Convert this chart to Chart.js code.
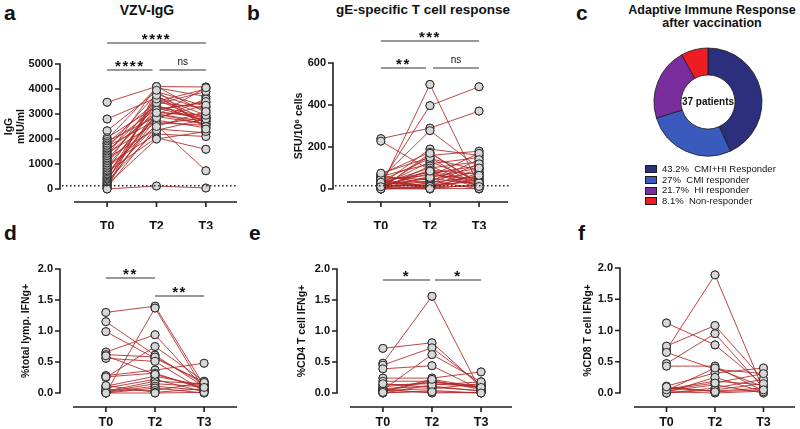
<!DOCTYPE html>
<html>
<head>
<meta charset="utf-8">
<script src="https://cdn.jsdelivr.net/npm/chart.js@4.4.1/dist/chart.umd.min.js"></script>
<style>
  body { margin: 0; background: #fff; width: 800px; height: 429px; position: relative; overflow: hidden;
         font-family: "Liberation Sans", Arial, sans-serif; color: #111; }
  canvas { position: absolute; }
  .lt { position: absolute; font-weight: bold; font-size: 21px; line-height: 21px; }
  .ttl { position: absolute; font-weight: bold; text-align: center; white-space: nowrap; transform: translateX(-50%); }
  #legend-c { position: absolute; left: 645px; top: 164px; margin: 0; padding: 0; list-style: none; font-size: 9.5px; }
  #legend-c li { height: 10.7px; line-height: 10.7px; white-space: nowrap; display: flex; align-items: center; }
  #legend-c span.sw { display: inline-block; width: 10px; height: 6px; border: 1px solid #1b1b1b; margin-right: 5px; }
</style>
</head>
<body>
<div class="lt" style="left:4px;top:2px">a</div>
<div class="lt" style="left:247px;top:2px">b</div>
<div class="lt" style="left:576px;top:2px">c</div>
<div class="lt" style="left:4px;top:222px">d</div>
<div class="lt" style="left:249px;top:222px">e</div>
<div class="lt" style="left:578px;top:222px">f</div>
<div class="ttl" style="left:147px;top:3px;font-size:14px;line-height:14px">VZV-IgG</div>
<div class="ttl" style="left:423px;top:3px;font-size:13.5px;line-height:14px">gE-specific T cell response</div>
<div class="ttl" style="left:712px;top:4px;font-size:12.5px;line-height:13px">Adaptive Immune Response<br>after vaccination</div>

<canvas id="pa"></canvas>
<canvas id="pb"></canvas>
<canvas id="pc"></canvas>
<canvas id="pd"></canvas>
<canvas id="pe"></canvas>
<canvas id="pf"></canvas>
<ul id="legend-c"></ul>

<script>
const timepoints = ['T0', 'T2', 'T3'];

// a - VZV-IgG, mIU/ml, one entry per patient
const iggT0 = [3470, 2800, 2330, 2050, 1990, 1900, 1830, 1760, 1700, 1640, 1560, 1490, 1420, 1360, 1300, 1240, 1170, 1100, 1030,
               960, 900, 830, 760, 690, 620, 560, 490, 430, 380, 320, 270, 220, 170, 120, 60, 20, 0];
const iggT2 = [4100, 3650, 3900, 3300, 4050, 2900, 3500, 3200, 2750, 3800, 3000, 3400, 2650, 3100, 4100, 2400, 3350, 2800, 3700,
               2200, 3250, 2550, 3450, 2050, 3000, 2950, 3600, 2600, 3150, 2350, 3750, 2850, 2000, 3050, 2500, 3950, 120];
const iggT3 = [4080, 2800, 3300, 2900, 3700, 2600, 4000, 3450, 2450, 3150, 2700, 3900, 2550, 2850, 3050, 2250, 2700, 3600, 2950,
               2100, 2750, 730, 3250, 1590, 2600, 4050, 2650, 2850, 3500, 2800, 2500, 3350, 2300, 2950, 3100, 2400, 40];
const iggTicks = [0, 1000, 2000, 3000, 4000, 5000];
const iggCutoff = 130;

// b - gE-specific T cells, SFU/10^6 cells
const sfuT0 = [240, 228, 10, 30, 50, 20, 70, 5, 40, 15, 60, 0, 25, 8, 35, 12, 45, 3, 18, 55, 6, 28, 2, 65, 14, 38, 0, 22, 9, 48, 4, 75, 16, 1, 32, 0, 11];
const sfuT2 = [290, 90, 498, 397, 278, 190, 175, 160, 145, 130, 120, 110, 100, 90, 80, 75, 65, 60, 50, 45, 40, 35, 30, 25, 20, 15, 10, 8, 5, 3, 0, 150, 55, 170, 12, 2, 85];
const sfuT3 = [371, 30, 15, 487, 100, 160, 20, 180, 90, 40, 150, 10, 130, 70, 5, 110, 50, 170, 25, 80, 0, 140, 60, 120, 35, 95, 45, 15, 75, 20, 55, 8, 100, 30, 65, 2, 12];
const sfuTicks = [0, 200, 400, 600];
const sfuCutoff = 15;

// d - % total lymphocytes IFNg+
const lympT0 = [1.30, 0.00, 1.15, 0.99, 0.66, 0.62, 0.56, 0.25, 0.28, 0.26, 0.11, 0.08, 0.03, 0.02, 0.01, 0.00, 0.05, 0.12, 0.00, 0.60];
const lympT2 = [1.40, 1.37, 0.61, 0.56, 0.94, 0.58, 0.51, 0.75, 0.37, 0.32, 0.27, 0.22, 0.19, 0.15, 0.11, 0.08, 0.04, 0.01, 0.00, 0.30];
const lympT3 = [0.12, 0.05, 0.10, 0.18, 0.08, 0.15, 0.03, 0.19, 0.48, 0.06, 0.12, 0.02, 0.15, 0.10, 0.04, 0.00, 0.17, 0.07, 0.01, 0.09];

// e - % CD4 T cells IFNg+
const cd4T0 = [0.48, 0.72, 0.45, 0.39, 0.05, 0.24, 0.19, 0.13, 0.07, 0.04, 0.00, 0.02, 0.10, 0.06, 0.15, 0.00, 0.03, 0.01];
const cd4T2 = [1.56, 0.81, 0.73, 0.44, 0.62, 0.24, 0.19, 0.15, 0.11, 0.07, 0.04, 0.20, 0.17, 0.00, 0.09, 0.13, 0.22, 0.02];
const cd4T3 = [0.02, 0.10, 0.13, 0.05, 0.18, 0.34, 0.08, 0.10, 0.03, 0.15, 0.00, 0.06, 0.12, 0.01, 0.04, 0.18, 0.09, 0.00];

// f - % CD8 T cells IFNg+
const cd8T0 = [0.69, 1.12, 0.75, 0.47, 0.43, 0.65, 0.11, 0.06, 0.03, 0.00, 0.08, 0.02, 0.04, 0.01, 0.00, 0.05, 0.10];
const cd8T2 = [1.89, 0.77, 1.08, 0.95, 0.43, 0.38, 0.32, 0.19, 0.13, 0.08, 0.03, 0.00, 0.40, 0.25, 0.05, 0.16, 0.02];
const cd8T3 = [0.05, 0.13, 0.21, 0.08, 0.03, 0.31, 0.40, 0.13, 0.00, 0.22, 0.08, 0.03, 0.10, 0.02, 0.15, 0.31, 0.05];

const pctTicks = [0, 0.5, 1.0, 1.5, 2.0];

// c - response groups
const groups = ['CMI+HI Responder', 'CMI responder', 'HI responder', 'Non-responder'];
const groupPct = [43.2, 27, 21.7, 8.1];
const groupColors = ['#2c2f7b', '#3a5bbd', '#7a2d9c', '#ec1d25'];
const nPatients = 37;

Chart.defaults.font.family = '"Liberation Sans", Arial, sans-serif';
Chart.defaults.color = '#111';
Chart.defaults.animation = false;

// GraphPad style detached axes, cutoff line and significance bars
const prismAxes = {
  id: 'prismAxes',
  afterDatasetsDraw(chart) {
    // points above every line
    chart.data.datasets.forEach((d, i) => {
      chart.getDatasetMeta(i).data.forEach(p => p.draw(chart.ctx, chart.chartArea));
    });
  },
  afterDraw(chart, args, o) {
    const {ctx, chartArea: a, scales: {x, y}} = chart;
    ctx.save();
    ctx.strokeStyle = '#1e1e1e';
    ctx.lineWidth = 1.6;
    const ax = a.left - o.gapY;
    const ay = a.bottom + o.gapX;
    ctx.beginPath();
    ctx.moveTo(ax, y.getPixelForValue(y.max) - 0.8);
    ctx.lineTo(ax, y.getPixelForValue(y.min) + 0.8);
    y.ticks.forEach(t => {
      const py = y.getPixelForValue(t.value);
      ctx.moveTo(ax - 5, py); ctx.lineTo(ax, py);
    });
    ctx.moveTo(a.left, ay); ctx.lineTo(a.right, ay);
    x.ticks.forEach(t => {
      const px = x.getPixelForValue(t.value);
      ctx.moveTo(px, ay); ctx.lineTo(px, ay + 5);
    });
    ctx.stroke();

    if (o.cutoff != null) {
      const py = y.getPixelForValue(o.cutoff);
      ctx.save();
      ctx.setLineDash([1.6, 2.4]);
      ctx.lineWidth = 1.5;
      ctx.strokeStyle = '#333';
      ctx.beginPath();
      ctx.moveTo(ax + 2, py); ctx.lineTo(a.right + 1, py);
      ctx.stroke();
      ctx.restore();
    }

    ctx.lineWidth = 1.2;
    ctx.strokeStyle = '#333';
    ctx.fillStyle = '#111';
    ctx.textAlign = 'center';
    ctx.textBaseline = 'alphabetic';
    (o.sig || []).forEach(s => {
      const x0 = x.getPixelForValue(s.from) + (s.trimL || 0);
      const x1 = x.getPixelForValue(s.to) - (s.trimR || 0);
      const by = a.top + s.dy;
      ctx.beginPath();
      ctx.moveTo(x0, by); ctx.lineTo(x1, by);
      ctx.stroke();
      if (s.label === 'ns') {
        ctx.font = '10px "Liberation Sans", Arial, sans-serif';
        ctx.letterSpacing = '0px';
        ctx.fillText(s.label, (x0 + x1) / 2, by - 5);
      } else {
        ctx.font = 'bold 15px "Liberation Sans", Arial, sans-serif';
        ctx.letterSpacing = '1.5px';
        ctx.fillText(s.label, (x0 + x1) / 2, by + 1);
      }
    });
    ctx.restore();
  }
};

function pairedPanel(id, box, area, opt) {
  const cv = document.getElementById(id);
  cv.width = box.w; cv.height = box.h;
  cv.style.left = box.x + 'px'; cv.style.top = box.y + 'px';
  const XH = 40;
  const series = opt.series;
  const datasets = series[0].map((v, i) => ({
    data: timepoints.map((t, j) => ({x: j, y: series[j][i]})),
    borderColor: 'rgba(176, 38, 36, 0.85)',
    borderWidth: 1,
    pointRadius: 4,
    pointBackgroundColor: '#d7d7d7',
    pointBorderColor: '#2a2a2a',
    pointBorderWidth: 1,
    clip: false
  }));
  new Chart(cv, {
    type: 'line',
    data: {datasets},
    plugins: [prismAxes],
    options: {
      responsive: false,
      layout: {padding: {
        left: 0,
        top: area.top - box.y,
        right: box.x + box.w - area.right,
        bottom: box.y + box.h - area.bottom - XH
      }},
      plugins: {
        legend: {display: false},
        tooltip: {enabled: false},
        prismAxes: {gapY: opt.gapY, gapX: opt.gapX, cutoff: opt.cutoff, sig: opt.sig}
      },
      scales: {
        x: {
          type: 'linear',
          min: opt.xMin, max: opt.xMax,
          grid: {display: false, drawTicks: false},
          border: {display: false},
          afterBuildTicks: s => { s.ticks = timepoints.map((t, j) => ({value: j})); },
          afterFit: s => { s.height = XH; },
          ticks: {
            autoSkip: false,
            padding: opt.labelPad,
            font: {size: 12.5, weight: 'bold'},
            color: '#111',
            callback: v => timepoints[v]
          }
        },
        y: {
          min: opt.yTicks[0], max: opt.yTicks[opt.yTicks.length - 1],
          grid: {display: false, drawTicks: false},
          border: {display: false},
          afterBuildTicks: s => { s.ticks = opt.yTicks.map(v => ({value: v})); },
          afterFit: s => { s.width = area.left - box.x; },
          ticks: {
            padding: opt.gapY + 7,
            font: {size: 11, weight: 'bold'},
            color: '#111',
            callback: opt.yFmt
          },
          title: {
            display: true,
            text: opt.yTitle,
            font: {size: 10.5, weight: 'bold', lineHeight: 1.15},
            color: '#111',
            padding: {top: opt.titlePad, bottom: 0}
          }
        }
      }
    }
  });
}

const fmt1 = v => v.toFixed(1);

pairedPanel('pa', {x: 0, y: 0, w: 260, h: 240}, {left: 74, right: 237, top: 64, bottom: 189}, {
  series: [iggT0, iggT2, iggT3], yTicks: iggTicks, yFmt: v => String(v),
  xMin: -0.67, xMax: 2.63, gapY: 14, gapX: 13, labelPad: 30.5, cutoff: iggCutoff,
  yTitle: ['IgG', 'mIU/ml'], titlePad: 3,
  sig: [
    {from: 0, to: 2, dy: -21, label: '****'},
    {from: 0, to: 1, dy: 6, label: '****', trimR: 4},
    {from: 1, to: 2, dy: 6, label: 'ns', trimL: 3}
  ]
});

pairedPanel('pb', {x: 260, y: 0, w: 270, h: 240}, {left: 347, right: 508, top: 63, bottom: 189}, {
  series: [sfuT0, sfuT2, sfuT3], yTicks: sfuTicks, yFmt: v => String(v),
  xMin: -0.69, xMax: 2.59, gapY: 14, gapX: 13, labelPad: 30.5, cutoff: sfuCutoff,
  yTitle: 'SFU/10\u2076 cells', titlePad: 33,
  sig: [
    {from: 0, to: 2, dy: -22, label: '***'},
    {from: 0, to: 1, dy: 5, label: '**', trimR: 4},
    {from: 1, to: 2, dy: 5, label: 'ns', trimL: 3}
  ]
});

pairedPanel('pd', {x: 0, y: 235, w: 270, h: 194}, {left: 73, right: 237, top: 269, bottom: 393}, {
  series: [lympT0, lympT2, lympT3], yTicks: pctTicks, yFmt: fmt1,
  xMin: -0.67, xMax: 2.67, gapY: 13, gapX: 14, labelPad: 22,
  yTitle: '%total lymp. IFNg+', titlePad: 20,
  sig: [
    {from: 0, to: 1, dy: 9, label: '**'},
    {from: 1, to: 2, dy: 27, label: '**'}
  ]
});

pairedPanel('pe', {x: 270, y: 235, w: 270, h: 194}, {left: 350, right: 512, top: 269, bottom: 393}, {
  series: [cd4T0, cd4T2, cd4T3], yTicks: pctTicks, yFmt: fmt1,
  xMin: -0.67, xMax: 2.63, gapY: 13, gapX: 14, labelPad: 22,
  yTitle: '%CD4 T cell IFNg+', titlePad: 26,
  sig: [
    {from: 0, to: 1, dy: 11, label: '*', trimR: 2},
    {from: 1, to: 2, dy: 11, label: '*', trimL: 3}
  ]
});

pairedPanel('pf', {x: 540, y: 235, w: 260, h: 194}, {left: 634, right: 798, top: 268, bottom: 393}, {
  series: [cd8T0, cd8T2, cd8T3], yTicks: pctTicks, yFmt: fmt1,
  xMin: -0.67, xMax: 2.65, gapY: 14, gapX: 14, labelPad: 22,
  yTitle: '%CD8 T cell IFNg+', titlePad: 42,
  sig: []
});

// c - doughnut with centre label and an HTML legend built from the chart's own legend items
const centerLabel = {
  id: 'centerLabel',
  afterDraw(chart) {
    const {ctx, chartArea: a} = chart;
    ctx.save();
    ctx.font = 'bold 10px "Liberation Sans", Arial, sans-serif';
    ctx.fillStyle = '#111';
    ctx.textAlign = 'center';
    ctx.textBaseline = 'middle';
    ctx.fillText(nPatients + ' patients', (a.left + a.right) / 2, (a.top + a.bottom) / 2);
    ctx.restore();
  }
};

const htmlLegend = {
  id: 'htmlLegend',
  afterUpdate(chart) {
    const ul = document.getElementById('legend-c');
    ul.innerHTML = '';
    const items = chart.options.plugins.legend.labels.generateLabels(chart);
    items.forEach(item => {
      const li = document.createElement('li');
      const sw = document.createElement('span');
      sw.className = 'sw';
      sw.style.background = item.fillStyle;
      li.appendChild(sw);
      li.appendChild(document.createTextNode(item.text));
      ul.appendChild(li);
    });
  }
};

const pc = document.getElementById('pc');
pc.width = 240; pc.height = 215;
pc.style.left = '560px'; pc.style.top = '0px';
new Chart(pc, {
  type: 'doughnut',
  data: {
    labels: groups.map((g, i) => groupPct[i] + '%\u00a0\u00a0' + g),
    datasets: [{
      data: groupPct,
      backgroundColor: groupColors,
      borderColor: '#1b1b1b',
      borderWidth: 0.8
    }]
  },
  plugins: [centerLabel, htmlLegend],
  options: {
    responsive: false,
    radius: 54,
    cutout: '50%',
    layout: {padding: {left: 84, right: 28, top: 40, bottom: 51}},
    plugins: {
      tooltip: {enabled: false},
      legend: {display: false}
    }
  }
});
</script>
</body>
</html>
